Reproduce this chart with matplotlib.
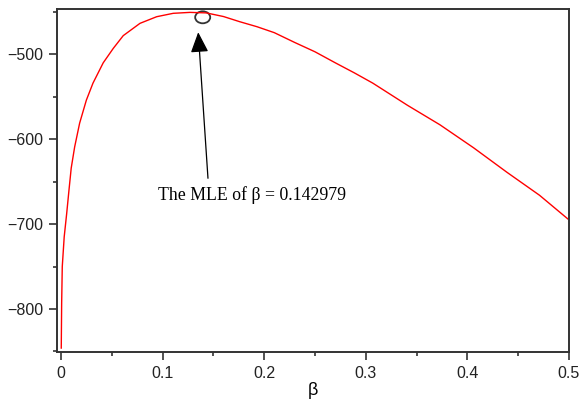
import matplotlib
matplotlib.use("Agg")
import matplotlib.pyplot as plt
from matplotlib.patches import Ellipse
from matplotlib.ticker import MultipleLocator

# data
beta = [0.0003, 0.0007, 0.0013, 0.0032, 0.0056, 0.0079, 0.0101, 0.0135, 0.0184, 0.025,
        0.0315, 0.0416, 0.0515, 0.0613, 0.0778, 0.0942, 0.1105, 0.127, 0.143, 0.160,
        0.176, 0.193, 0.210, 0.230, 0.250, 0.270, 0.289, 0.307, 0.341, 0.373,
        0.406, 0.439, 0.471, 0.499]
loglik = [-846, -793, -750, -715, -688, -660, -634, -609, -581, -554,
          -534, -510, -493, -478, -463.5, -455.7, -451.7, -450.6, -451.2, -455.5,
          -461.6, -467.5, -474.5, -486, -497, -510, -522, -534, -560, -583,
          -610, -639, -666, -694]
mle_beta = 0.142979
circle_xy = (0.1395, -456.4)
label = "The MLE of \u03b2 = 0.142979"

fig = plt.figure(figsize=(5.79, 4.03), dpi=100)
ax = fig.add_axes([0.0993, 0.1266, 0.8834, 0.8511])
ax.plot(beta, loglik, color="red", lw=1.0)

ax.add_patch(Ellipse(circle_xy, 0.0148, 14.1, fill=False, ec="#333333", lw=1.3))
ax.annotate("", xy=(0.1351, -474), xytext=(0.1447, -646),
            arrowprops=dict(arrowstyle="-|>,head_length=1.25,head_width=0.55",
                            color="black", lw=0.9, shrinkA=0, shrinkB=0))
ax.text(0.0955, -665.7, label, fontfamily="Liberation Serif", fontsize=12.8,
        ha="left", va="center", color="black")

ax.set_xlim(-0.0034, 0.5)
ax.set_ylim(-850.6, -446.6)
ax.xaxis.set_minor_locator(MultipleLocator(0.05))
ax.yaxis.set_minor_locator(MultipleLocator(50))
ax.set_xticks([0, 0.1, 0.2, 0.3, 0.4, 0.5])
ax.set_xticklabels(["0", "0.1", "0.2", "0.3", "0.4", "0.5"])
ax.set_yticks([-800, -700, -600, -500])
ax.set_yticklabels(["\u2212800", "\u2212700", "\u2212600", "\u2212500"])
for lab in ax.get_xticklabels() + ax.get_yticklabels():
    lab.set_fontfamily("Liberation Sans")
    lab.set_fontsize(11.5)
    lab.set_color("#222222")
ax.tick_params(which="major", direction="out", length=6, width=1.2, color="#333333", pad=4)
ax.tick_params(which="minor", direction="out", length=3, width=1.2, color="#333333")
for s in ax.spines.values():
    s.set_linewidth(1.4)
    s.set_color("#333333")
ax.set_xlabel("\u03b2", fontfamily="Liberation Sans", fontsize=13, labelpad=1)

fig.savefig("out.png", dpi=100)
